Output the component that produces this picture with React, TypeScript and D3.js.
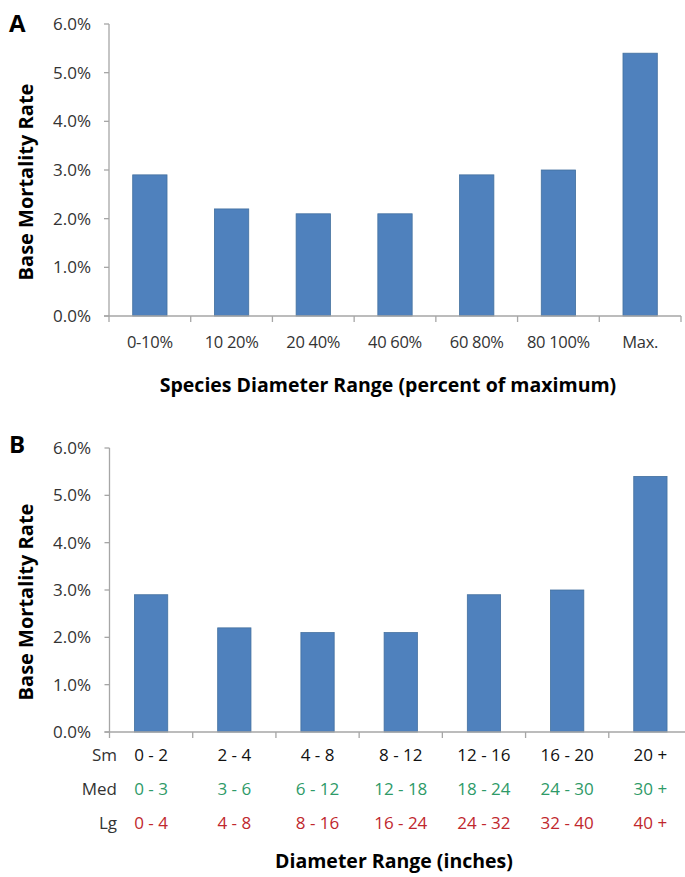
import React from "react";
import * as d3 from "d3";

const categoriesA = ["0-10%", "10 20%", "20 40%", "40 60%", "60 80%", "80 100%", "Max."];
const valuesA = [0.029, 0.022, 0.021, 0.021, 0.029, 0.03, 0.054];
const sizeRowSm = ["0 - 2", "2 - 4", "4 - 8", "8 - 12", "12 - 16", "16 - 20", "20 +"];
const sizeRowMed = ["0 - 3", "3 - 6", "6 - 12", "12 - 18", "18 - 24", "24 - 30", "30 +"];
const sizeRowLg = ["0 - 4", "4 - 8", "8 - 16", "16 - 24", "24 - 32", "32 - 40", "40 +"];
const valuesB = [0.029, 0.022, 0.021, 0.021, 0.029, 0.03, 0.054];
const yTicks = [0, 0.01, 0.02, 0.03, 0.04, 0.05, 0.06];

const FONT = "'Open Sans', 'DejaVu Sans', sans-serif";
const BAR = "#4f81bd";
const BAR_STROKE = "#43709f";
const AXIS = "#a6a6a6";
const pct = d3.format(".1%");

type PanelProps = {
  letter: string;
  letterY: number;
  cats: string[];
  values: number[];
  top: number;
  bottom: number;
  x0: number;
  x1: number;
  pad: number;
};

function Panel({ letter, letterY, cats, values, top, bottom, x0, x1, pad }: PanelProps) {
  const y = d3.scaleLinear().domain([0, 0.06]).range([bottom, top]);
  const x = d3.scaleBand<number>().domain(d3.range(cats.length)).range([x0, x1]).paddingInner(pad).paddingOuter(pad / 2);
  const step = x.step();
  const bounds = d3.range(cats.length + 1).map((i) => x0 + i * step);
  return (
    <g>
      <text x={9} y={letterY} fontFamily={FONT} fontWeight={700} fontSize={24} fill="#000">{letter}</text>
      <text
        transform={`translate(26,${(top + bottom) / 2 + 12}) rotate(-90)`}
        textAnchor="middle"
        dy="0.35em"
        fontFamily={FONT}
        fontWeight={700}
        fontSize={20}
        fill="#000"
      >Base Mortality Rate</text>
      {yTicks.map((t) => (
        <g key={t}>
          <line x1={x0 - 5} x2={x0} y1={y(t)} y2={y(t)} stroke={AXIS} strokeWidth={1.3} />
          <text x={91} y={y(t)} dy="0.35em" textAnchor="end" fontFamily={FONT} fontSize={17} fill="#333">{pct(t)}</text>
        </g>
      ))}
      {values.map((v, i) => (
        <rect key={i} x={x(i)} y={y(v)} width={x.bandwidth()} height={bottom - y(v)} fill={BAR} stroke={BAR_STROKE} strokeWidth={0.8} />
      ))}
      <line x1={x0} x2={x0} y1={top} y2={bottom} stroke={AXIS} strokeWidth={1.3} />
      <line x1={x0 - 5} x2={x1} y1={bottom} y2={bottom} stroke={AXIS} strokeWidth={1.3} />
      {bounds.map((b, i) => (
        <line key={i} x1={b} x2={b} y1={bottom} y2={bottom + 6} stroke={AXIS} strokeWidth={1.3} />
      ))}
    </g>
  );
}

export default function App() {
  const xA = d3.scaleBand<number>().domain(d3.range(7)).range([109, 681]);
  const xB = d3.scaleBand<number>().domain(d3.range(7)).range([109.5, 692]);
  const cA = (i: number) => (xA(i) as number) + xA.bandwidth() / 2;
  const cB = (i: number) => (xB(i) as number) + xB.bandwidth() / 2;
  const rows = [
    { label: "Sm", items: sizeRowSm, color: "#111", y: 755 },
    { label: "Med", items: sizeRowMed, color: "#2e9a68", y: 789 },
    { label: "Lg", items: sizeRowLg, color: "#c0272d", y: 823 },
  ];
  return (
    <svg width={685} height={877} style={{ position: "absolute", left: 0, top: 0, background: "#fff" }}>
      <rect width={685} height={877} fill="#fff" />
      <Panel letter="A" letterY={32} cats={categoriesA} values={valuesA} top={24} bottom={316} x0={109} x1={681} pad={0.58} />
      {categoriesA.map((c, i) => (
        <text key={c} x={cA(i)} y={342} dy="0.35em" textAnchor="middle" fontFamily={FONT} fontSize={16.5} letterSpacing={-0.3} fill="#333">{c}</text>
      ))}
      <text x={388} y={385} dy="0.35em" textAnchor="middle" fontFamily={FONT} fontWeight={700} fontSize={19.5} fill="#000">
        Species Diameter Range (percent of maximum)
      </text>

      <Panel letter="B" letterY={453} cats={sizeRowSm} values={valuesB} top={448} bottom={732} x0={109.5} x1={692} pad={0.6} />
      {rows.map((r) => (
        <g key={r.label}>
          <text x={117} y={r.y} dy="0.35em" textAnchor="end" fontFamily={FONT} fontSize={17} fill="#333">{r.label}</text>
          {r.items.map((c, i) => (
            <text key={i} x={cB(i)} y={r.y} dy="0.35em" textAnchor="middle" fontFamily={FONT} fontSize={17} fill={r.color}>{c}</text>
          ))}
        </g>
      ))}
      <text x={394} y={861} dy="0.35em" textAnchor="middle" fontFamily={FONT} fontWeight={700} fontSize={19.5} fill="#000">
        Diameter Range (inches)
      </text>
    </svg>
  );
}
